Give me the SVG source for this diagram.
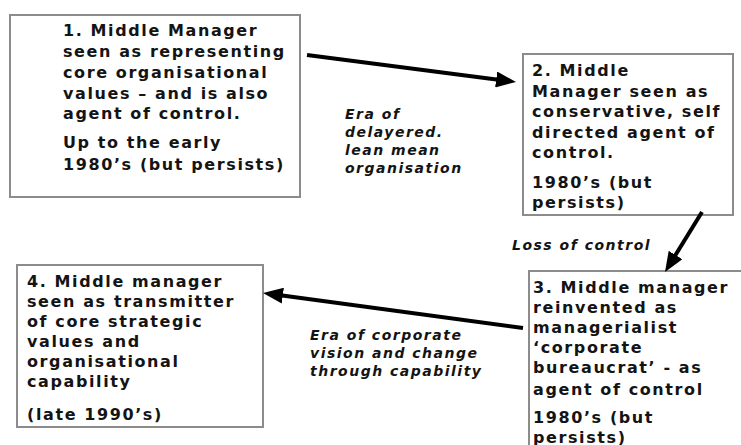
<svg xmlns="http://www.w3.org/2000/svg" width="741" height="445" viewBox="0 0 741 445">
<defs>
<style>
.box{fill:#fff;stroke:#8c8c8c;stroke-width:2}
.t{font-family:"DejaVu Sans","Liberation Sans",sans-serif;font-weight:bold;font-size:16px;letter-spacing:1.6px;fill:#141414}
.lbl{font-family:"DejaVu Sans","Liberation Sans",sans-serif;font-weight:bold;font-style:italic;font-size:14px;letter-spacing:1.5px;fill:#141414}
.arr{stroke:#000;stroke-width:4;fill:none;marker-end:url(#ah)}
</style>
<marker id="ah" markerUnits="userSpaceOnUse" markerWidth="20" markerHeight="16" viewBox="0 0 20 16" refX="8" refY="8" orient="auto">
<path d="M0,0 L20,8 L0,16 z" fill="#000"/>
</marker>
</defs>
<rect width="741" height="445" fill="#fff"/>
<g id="node1">
<rect class="box" x="10" y="15" width="290" height="182"/>
<text class="t"><tspan x="63" y="36">1. Middle Manager</tspan><tspan x="63" y="57">seen as representing</tspan><tspan x="63" y="78">core organisational</tspan><tspan x="63" y="99">values – and is also</tspan><tspan x="63" y="119">agent of control.</tspan><tspan x="63" y="148">Up to the early</tspan><tspan x="63" y="170">1980’s (but persists)</tspan></text>
</g>
<g id="node2">
<rect class="box" x="523" y="54" width="210" height="161"/>
<text class="t"><tspan x="532" y="76">2. Middle</tspan><tspan x="532" y="97">Manager seen as</tspan><tspan x="532" y="117">conservative, self</tspan><tspan x="532" y="138">directed agent of</tspan><tspan x="532" y="158">control.</tspan><tspan x="532" y="188">1980’s (but</tspan><tspan x="532" y="208">persists)</tspan></text>
</g>
<g id="node3">
<rect class="box" x="529" y="271" width="225" height="190"/>
<text class="t"><tspan x="533" y="293">3. Middle manager</tspan><tspan x="533" y="313">reinvented as</tspan><tspan x="533" y="333">managerialist</tspan><tspan x="533" y="353">‘corporate</tspan><tspan x="533" y="373">bureaucrat’ - as</tspan><tspan x="533" y="395">agent of control</tspan><tspan x="533" y="423">1980’s (but</tspan><tspan x="533" y="443">persists)</tspan></text>
</g>
<g id="node4">
<rect class="box" x="17" y="265" width="246" height="162"/>
<text class="t"><tspan x="27" y="287">4. Middle manager</tspan><tspan x="27" y="307">seen as transmitter</tspan><tspan x="27" y="327">of core strategic</tspan><tspan x="27" y="347">values and</tspan><tspan x="27" y="367">organisational</tspan><tspan x="27" y="387">capability</tspan><tspan x="27" y="420">(late 1990’s)</tspan></text>
</g>
<g id="connectors">
<line class="arr" x1="307" y1="55" x2="504.1" y2="80.5"/>
<line class="arr" x1="702" y1="212" x2="671.3" y2="261.8"/>
<line class="arr" x1="523" y1="328" x2="274.9" y2="294.6"/>
<text class="lbl"><tspan x="345" y="119">Era of</tspan><tspan x="345" y="137">delayered.</tspan><tspan x="345" y="155">lean mean</tspan><tspan x="345" y="173">organisation</tspan></text>
<text class="lbl" x="512" y="250">Loss of control</text>
<text class="lbl"><tspan x="310" y="340">Era of corporate</tspan><tspan x="310" y="358">vision and change</tspan><tspan x="310" y="376">through capability</tspan></text>
</g>
</svg>
